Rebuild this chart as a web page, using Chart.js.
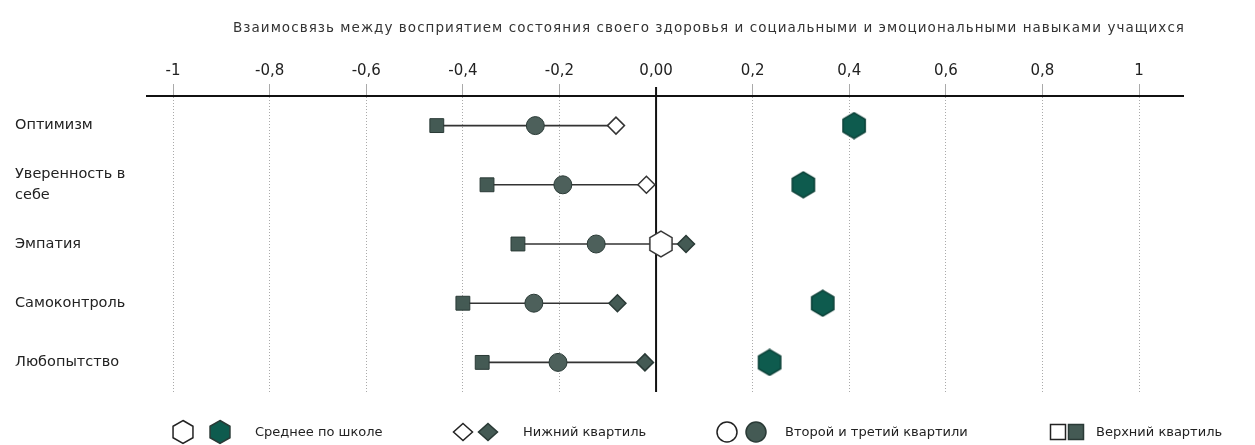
<!DOCTYPE html>
<html lang="ru">
<head>
<meta charset="utf-8">
<title>Взаимосвязь между восприятием здоровья и навыками</title>
<script src="https://cdn.jsdelivr.net/npm/chart.js@4.4.1/dist/chart.umd.min.js"></script>
<style>
    html, body { margin: 0; padding: 0; background: #fff; }
    #wrap { width: 1255px; height: 445px; position: relative; }
</style>
</head>
<body>
<div id="wrap"><canvas id="grafico"></canvas></div>
<script>
// Данные графика
const title = 'Взаимосвязь между восприятием состояния своего здоровья и социальными и эмоциональными навыками учащихся';
const categories = ['Оптимизм', 'Уверенность в себе', 'Эмпатия', 'Самоконтроль', 'Любопытство'];
const categoryLines = [['Оптимизм'], ['Уверенность в', 'себе'], ['Эмпатия'], ['Самоконтроль'], ['Любопытство']];
const schoolMean = [0.41, 0.305, 0.01, 0.345, 0.235];
const schoolMeanOpen = [false, false, true, false, false];
const lowerQuartile = [-0.083, -0.02, 0.062, -0.08, -0.023];
const lowerQuartileOpen = [true, true, false, false, false];
const middleQuartiles = [-0.25, -0.193, -0.124, -0.253, -0.203];
const upperQuartile = [-0.454, -0.35, -0.286, -0.40, -0.36];
const tickValues = [-1, -0.8, -0.6, -0.4, -0.2, 0, 0.2, 0.4, 0.6, 0.8, 1];
const tickLabels = ['-1', '-0,8', '-0,6', '-0,4', '-0,2', '0,00', '0,2', '0,4', '0,6', '0,8', '1'];
const legendLabels = ['Среднее по школе', 'Нижний квартиль', 'Второй и третий квартили', 'Верхний квартиль'];

const FONT = 'DejaVu Sans';
const TEAL = '#0e5b4e';
const GREY = '#445a54';

// Шестиугольник (вершина сверху)
function pointyHex(ctx, x, y, r) {
    ctx.beginPath();
    for (let i = 0; i < 6; i++) {
        const a = -Math.PI / 2 + i * Math.PI / 3;
        const px = x + r * Math.cos(a);
        const py = y + r * Math.sin(a);
        if (i === 0) ctx.moveTo(px, py); else ctx.lineTo(px, py);
    }
    ctx.closePath();
}
function makeHex(fill, stroke) {
    const c = document.createElement('canvas');
    c.width = 28; c.height = 28;
    const g = c.getContext('2d');
    pointyHex(g, 14, 14, 12.8);
    g.fillStyle = fill;
    g.fill();
    g.lineWidth = 1.5;
    g.strokeStyle = stroke;
    g.stroke();
    return c;
}
const hexFilled = makeHex(TEAL, '#0a3f36');
const hexOpen = makeHex('#fff', '#333');

function toPoints(values) {
    return values.map((v, i) => ({ x: v, y: categories[i] }));
}

// Линии от верхнего квартиля до нижнего
const rangeLines = categories.map((c, i) => {
    const vals = [upperQuartile[i], middleQuartiles[i], lowerQuartile[i]];
    return {
        type: 'line',
        data: [{ x: Math.min(...vals), y: c }, { x: Math.max(...vals), y: c }],
        borderColor: '#333',
        borderWidth: 1.6,
        pointRadius: 0,
        order: 10
    };
});

const datasets = rangeLines.concat([
    {
        label: legendLabels[3],
        data: toPoints(upperQuartile),
        pointStyle: 'rect',
        pointRadius: 9.8,
        backgroundColor: GREY,
        borderColor: '#2a3a36',
        borderWidth: 1,
        order: 2
    },
    {
        label: legendLabels[2],
        data: toPoints(middleQuartiles),
        pointStyle: 'circle',
        pointRadius: 9,
        backgroundColor: '#4d605b',
        borderColor: '#2a3a36',
        borderWidth: 1,
        order: 2
    },
    {
        label: legendLabels[1],
        data: toPoints(lowerQuartile),
        pointStyle: 'rectRot',
        pointRadius: 8.5,
        backgroundColor: lowerQuartileOpen.map(o => o ? '#fff' : GREY),
        borderColor: lowerQuartileOpen.map(o => o ? '#333' : '#2a3a36'),
        borderWidth: 1.5,
        order: 2
    },
    {
        label: legendLabels[0],
        data: toPoints(schoolMean),
        pointStyle: schoolMeanOpen.map(o => o ? hexOpen : hexFilled),
        pointRadius: 12,
        order: 1
    }
]);

// Нулевая линия
const zeroLine = {
    id: 'zeroLine',
    beforeDatasetsDraw(chart) {
        const ctx = chart.ctx;
        const x = chart.scales.x.getPixelForValue(0);
        ctx.save();
        ctx.strokeStyle = '#111';
        ctx.lineWidth = 2;
        ctx.beginPath();
        ctx.moveTo(x, chart.chartArea.top - 9);
        ctx.lineTo(x, chart.chartArea.bottom);
        ctx.stroke();
        ctx.restore();
    }
};

// Заголовок и легенда внизу
const extras = {
    id: 'extras',
    afterDraw(chart) {
        const ctx = chart.ctx;
        ctx.save();
        // заголовок
        ctx.font = '13.5px "' + FONT + '"';
        ctx.fillStyle = '#333';
        ctx.textBaseline = 'middle';
        const w = ctx.measureText(title).width;
        const target = 952;
        if ('letterSpacing' in ctx && w < target) {
            ctx.letterSpacing = ((target - w) / title.length).toFixed(2) + 'px';
        }
        ctx.textAlign = 'left';
        ctx.fillText(title, 709 - target / 2, 28);
        if ('letterSpacing' in ctx) ctx.letterSpacing = '0px';

        // легенда
        const y = 432;
        const items = [
            { a: 183, b: 220, t: 255, kind: 'hex' },
            { a: 463, b: 488, t: 523, kind: 'dia' },
            { a: 727, b: 756, t: 785, kind: 'cir' },
            { a: 1058, b: 1076, t: 1096, kind: 'sq' }
        ];
        items.forEach((it, i) => {
            [[it.a, true], [it.b, false]].forEach(([x, open]) => {
                ctx.beginPath();
                if (it.kind === 'hex') {
                    pointyHex(ctx, x, y, 11.5);
                } else if (it.kind === 'dia') {
                    ctx.moveTo(x, y - 8.5); ctx.lineTo(x + 9.5, y); ctx.lineTo(x, y + 8.5); ctx.lineTo(x - 9.5, y); ctx.closePath();
                } else if (it.kind === 'cir') {
                    ctx.arc(x, y, 10, 0, Math.PI * 2);
                } else {
                    ctx.rect(x - 7.5, y - 7.5, 15, 15);
                }
                ctx.fillStyle = open ? '#fff' : (it.kind === 'hex' ? TEAL : GREY);
                ctx.fill();
                ctx.lineWidth = 1.5;
                ctx.strokeStyle = open ? '#222' : '#2a3a36';
                ctx.stroke();
            });
            ctx.font = '13px "' + FONT + '"';
            ctx.fillStyle = '#222';
            ctx.textAlign = 'left';
            ctx.fillText(legendLabels[i], it.t, y + 1);
        });
        ctx.restore();
    }
};

document.addEventListener('DOMContentLoaded', function () {
    const ctx = document.getElementById('grafico').getContext('2d');
    new Chart(ctx, {
        type: 'scatter',
        data: { labels: categories, datasets: datasets },
        options: {
            responsive: true,
            maintainAspectRatio: false,
            animation: false,
            layout: { padding: { top: 58, left: 15, right: 72, bottom: 53 } },
            plugins: {
                legend: { display: false },
                tooltip: { enabled: false },
                title: { display: false }
            },
            scales: {
                x: {
                    type: 'linear',
                    position: 'top',
                    min: -1.054,
                    max: 1.091,
                    afterBuildTicks: function (scale) {
                        scale.ticks = tickValues.map(v => ({ value: v }));
                    },
                    ticks: {
                        padding: 4,
                        color: '#222',
                        font: { family: FONT, size: 15 },
                        callback: function (value) {
                            const i = tickValues.findIndex(t => Math.abs(t - value) < 1e-9);
                            return i >= 0 ? tickLabels[i] : '';
                        }
                    },
                    grid: {
                        color: ctx => (ctx.tick && ctx.tick.value === 0) ? 'rgba(0,0,0,0)' : '#aaaaaa',
                        lineWidth: 1,
                        tickLength: 12
                    },
                    border: { color: '#111', width: 2, dash: [1, 2] }
                },
                y: {
                    type: 'category',
                    offset: true,
                    afterFit: function (scale) { scale.width = 132; },
                    ticks: {
                        crossAlign: 'far',
                        padding: 0,
                        color: '#222',
                        font: { family: FONT, size: 14.5, lineHeight: 1.45 },
                        callback: function (value, index) { return categoryLines[index]; }
                    },
                    grid: { display: false },
                    border: { display: false }
                }
            }
        },
        plugins: [zeroLine, extras]
    });
});
</script>
</body>
</html>
